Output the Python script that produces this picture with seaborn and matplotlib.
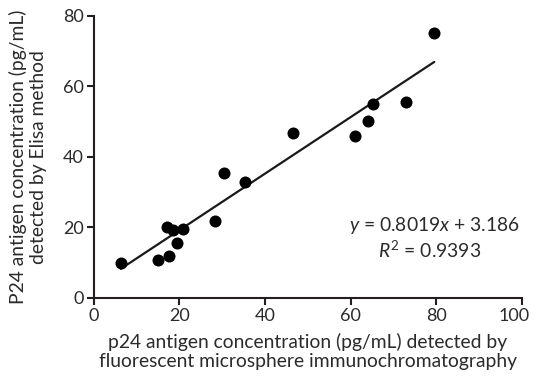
import matplotlib
matplotlib.use("Agg")
import matplotlib.pyplot as plt
import matplotlib.transforms as mtrans
import seaborn as sns
import numpy as np
import pandas as pd

sns.set_theme(style="ticks")
plt.rcParams['font.family'] = ['Lato', 'DejaVu Sans']
plt.rcParams['mathtext.fontset'] = 'custom'
plt.rcParams['mathtext.rm'] = 'Lato'
plt.rcParams['mathtext.it'] = 'Lato:italic'

# 数据：从图上读取
fmi_conc = [6.3, 14.9, 17.6, 17.0, 18.6, 19.4, 20.9, 28.2, 30.3, 35.4,
            46.4, 61.1, 64.0, 65.3, 72.8, 79.5]
elisa_conc = [10.0, 10.8, 12.0, 20.1, 19.3, 15.5, 19.5, 21.9, 35.4, 33.0,
              46.7, 45.8, 50.2, 54.9, 55.6, 75.1]
slope, intercept = 0.8019, 3.186
r2 = 0.9393

df = pd.DataFrame({'fmi': fmi_conc, 'elisa': elisa_conc})

txt = '#2b2b2b'
fs = 13.9
fig = plt.figure(figsize=(5.36, 3.78), dpi=100)
ax = fig.add_axes([0.175, 0.212, 0.799, 0.746])

sns.scatterplot(data=df, x='fmi', y='elisa', ax=ax, color='black',
                s=75, edgecolor='black', linewidth=0, zorder=3)

xs = np.array([min(fmi_conc), max(fmi_conc)])
ax.plot(xs, slope * xs + intercept, color='#1a1a1a', lw=1.6, zorder=2)

ax.set_xlim(0, 100)
ax.set_ylim(0, 80)
ax.set_xticks([0, 20, 40, 60, 80, 100])
ax.set_yticks([0, 20, 40, 60, 80])
sns.despine(ax=ax)
for s in ['left', 'bottom']:
    ax.spines[s].set_linewidth(1.5)
    ax.spines[s].set_color('#231f20')
ax.tick_params(axis='both', length=5, width=1.5, color='#231f20',
               labelsize=13, labelcolor=txt, pad=2)

# 最右侧刻度标签稍向左移，避免被裁切
last = ax.get_xticklabels()[-1]
last.set_transform(last.get_transform() +
                   mtrans.ScaledTranslation(-6 / 72, 0, fig.dpi_scale_trans))

ax.set_xlabel('p24 antigen concentration (pg/mL) detected by\n'
              'fluorescent microsphere immunochromatography',
              fontsize=fs, color=txt, labelpad=7, linespacing=1.15)
ax.set_ylabel('P24 antigen concentration (pg/mL)\ndetected by Elisa method',
              fontsize=fs, color=txt, labelpad=12, linespacing=1.2)

ax.text(0.795, 0.255, r'$\it{y}$ = 0.8019$\it{x}$ + 3.186',
        transform=ax.transAxes, ha='center', va='center', fontsize=fs, color=txt)
ax.text(0.785, 0.17, r'$\it{R}^2$ = ' + f'{r2:.4f}',
        transform=ax.transAxes, ha='center', va='center', fontsize=fs, color=txt)

fig.savefig('out.png', dpi=100)
